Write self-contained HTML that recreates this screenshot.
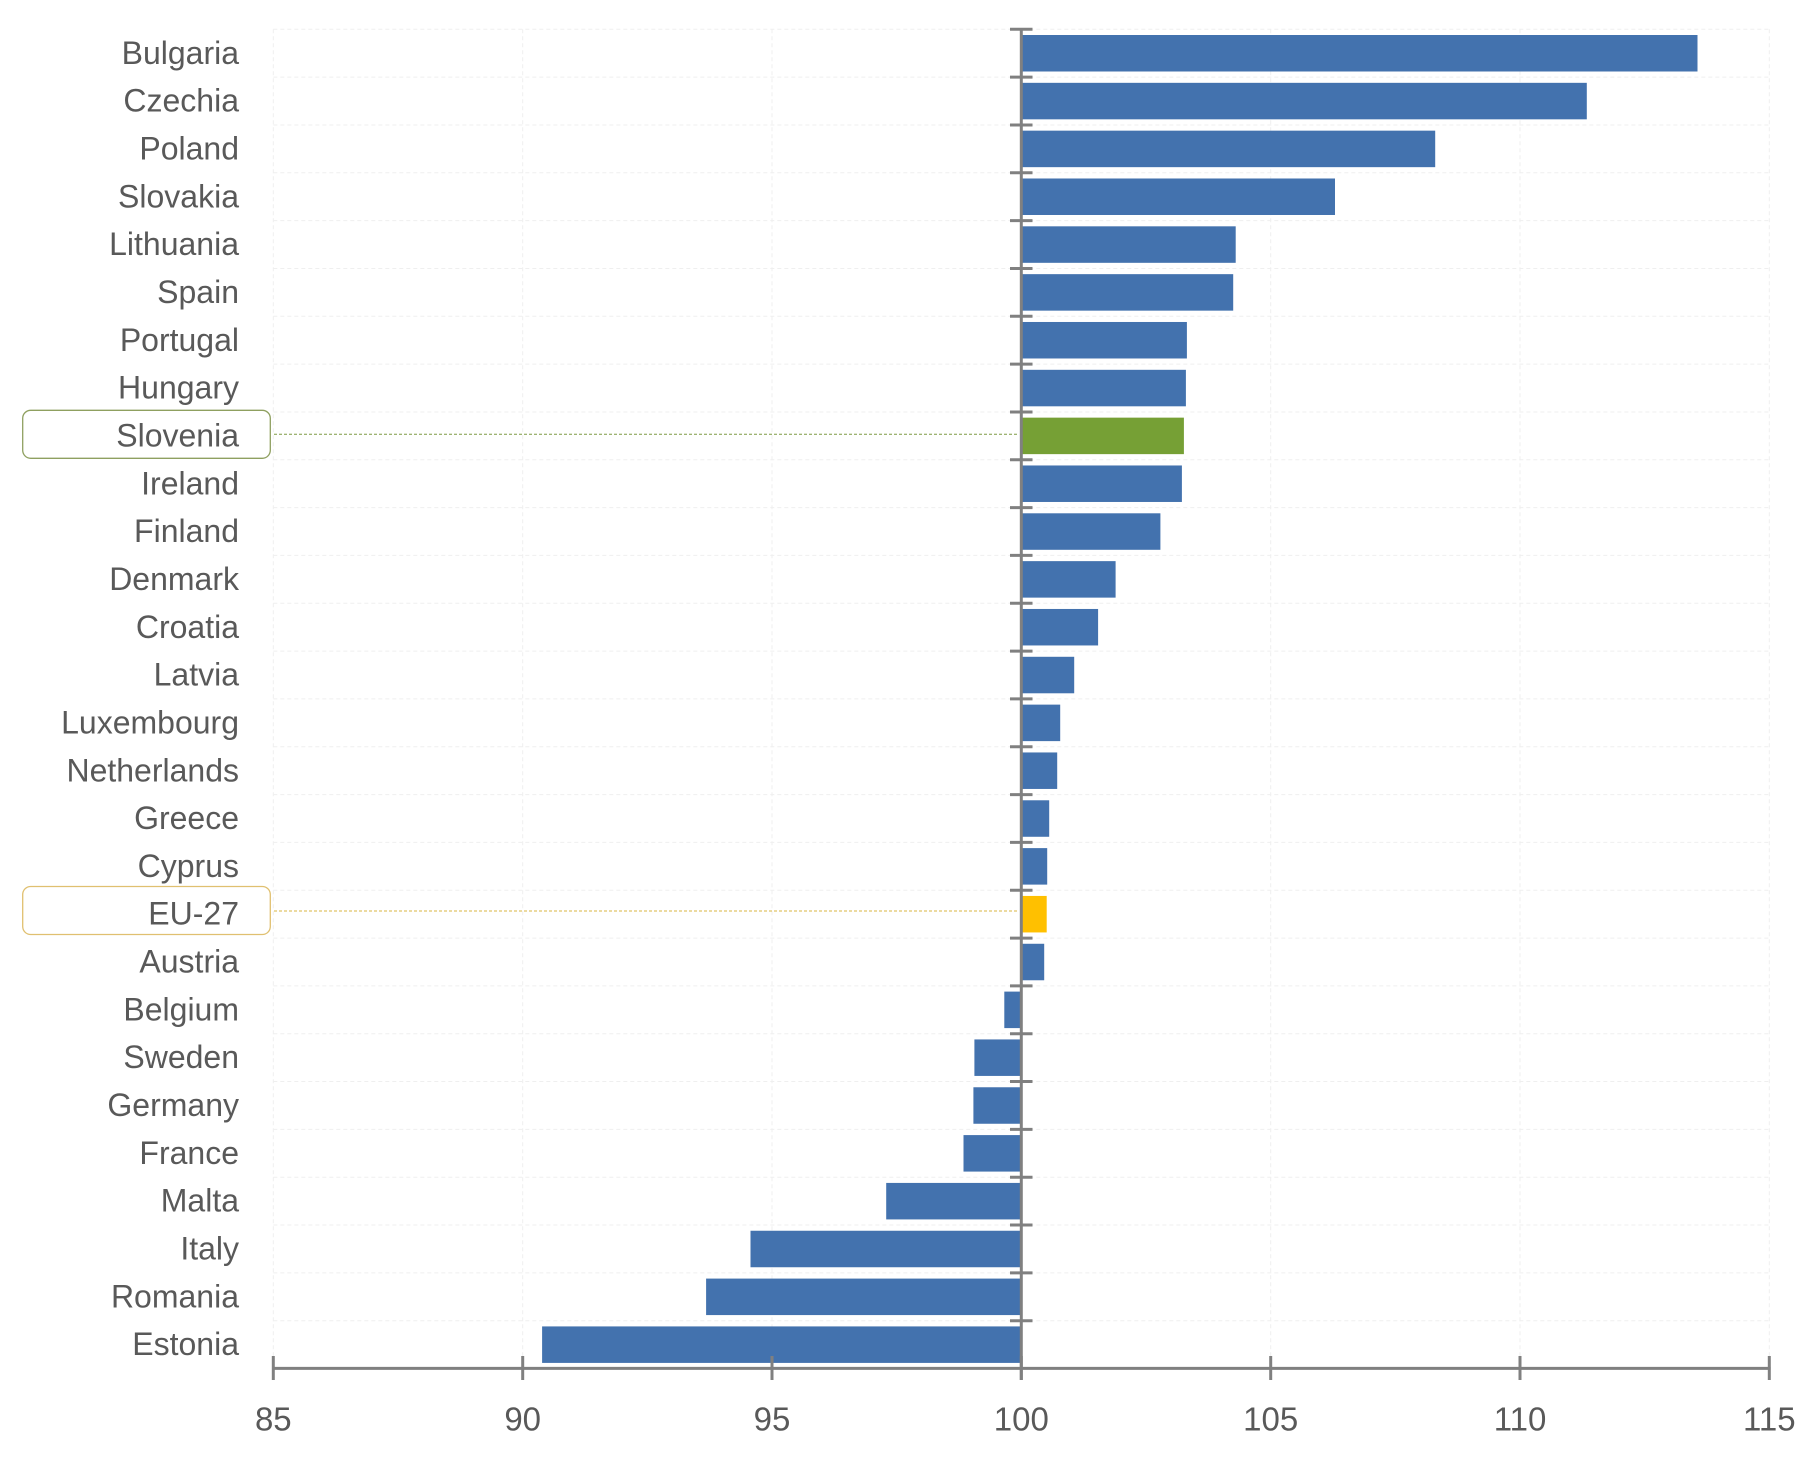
<!DOCTYPE html>
<html>
<head>
<meta charset="utf-8">
<style>
html,body{margin:0;padding:0;background:#fff;}
svg{display:block;}
text{font-family:"Liberation Sans",Arial,sans-serif;fill:#595959;}
</style>
</head>
<body>
<svg width="1813" height="1457" viewBox="0 0 1813 1457" xmlns="http://www.w3.org/2000/svg">
<g stroke="#efefef" stroke-width="1" stroke-dasharray="4,3" fill="none">
<line x1="273.3" y1="29.3" x2="273.3" y2="1368"/>
<line x1="522.7" y1="29.3" x2="522.7" y2="1368"/>
<line x1="772" y1="29.3" x2="772" y2="1368"/>
<line x1="1270.7" y1="29.3" x2="1270.7" y2="1368"/>
<line x1="1520" y1="29.3" x2="1520" y2="1368"/>
<line x1="1769.3" y1="29.3" x2="1769.3" y2="1368"/>
<line x1="273.3" y1="29.3" x2="1769.3" y2="29.3"/>
<line x1="273.3" y1="77.13" x2="1769.3" y2="77.13"/>
<line x1="273.3" y1="124.96" x2="1769.3" y2="124.96"/>
<line x1="273.3" y1="172.79" x2="1769.3" y2="172.79"/>
<line x1="273.3" y1="220.62" x2="1769.3" y2="220.62"/>
<line x1="273.3" y1="268.45" x2="1769.3" y2="268.45"/>
<line x1="273.3" y1="316.28" x2="1769.3" y2="316.28"/>
<line x1="273.3" y1="364.11" x2="1769.3" y2="364.11"/>
<line x1="273.3" y1="411.94" x2="1769.3" y2="411.94"/>
<line x1="273.3" y1="459.77" x2="1769.3" y2="459.77"/>
<line x1="273.3" y1="507.6" x2="1769.3" y2="507.6"/>
<line x1="273.3" y1="555.43" x2="1769.3" y2="555.43"/>
<line x1="273.3" y1="603.26" x2="1769.3" y2="603.26"/>
<line x1="273.3" y1="651.09" x2="1769.3" y2="651.09"/>
<line x1="273.3" y1="698.92" x2="1769.3" y2="698.92"/>
<line x1="273.3" y1="746.75" x2="1769.3" y2="746.75"/>
<line x1="273.3" y1="794.58" x2="1769.3" y2="794.58"/>
<line x1="273.3" y1="842.41" x2="1769.3" y2="842.41"/>
<line x1="273.3" y1="890.24" x2="1769.3" y2="890.24"/>
<line x1="273.3" y1="938.07" x2="1769.3" y2="938.07"/>
<line x1="273.3" y1="985.9" x2="1769.3" y2="985.9"/>
<line x1="273.3" y1="1033.73" x2="1769.3" y2="1033.73"/>
<line x1="273.3" y1="1081.56" x2="1769.3" y2="1081.56"/>
<line x1="273.3" y1="1129.39" x2="1769.3" y2="1129.39"/>
<line x1="273.3" y1="1177.22" x2="1769.3" y2="1177.22"/>
<line x1="273.3" y1="1225.05" x2="1769.3" y2="1225.05"/>
<line x1="273.3" y1="1272.88" x2="1769.3" y2="1272.88"/>
<line x1="273.3" y1="1320.71" x2="1769.3" y2="1320.71"/>
</g>

<g fill="#4372ae">
<rect x="1021.3" y="35.0" width="676.2" height="36.5"/>
<rect x="1021.3" y="82.83" width="565.5" height="36.5"/>
<rect x="1021.3" y="130.66" width="413.9" height="36.5"/>
<rect x="1021.3" y="178.49" width="313.7" height="36.5"/>
<rect x="1021.3" y="226.32" width="214.4" height="36.5"/>
<rect x="1021.3" y="274.15" width="211.9" height="36.5"/>
<rect x="1021.3" y="321.98" width="165.6" height="36.5"/>
<rect x="1021.3" y="369.81" width="164.6" height="36.5"/>
<rect x="1021.3" y="465.47" width="160.6" height="36.5"/>
<rect x="1021.3" y="513.3" width="139.1" height="36.5"/>
<rect x="1021.3" y="561.13" width="94.3" height="36.5"/>
<rect x="1021.3" y="608.96" width="76.8" height="36.5"/>
<rect x="1021.3" y="656.79" width="52.9" height="36.5"/>
<rect x="1021.3" y="704.62" width="38.9" height="36.5"/>
<rect x="1021.3" y="752.45" width="35.9" height="36.5"/>
<rect x="1021.3" y="800.28" width="27.9" height="36.5"/>
<rect x="1021.3" y="848.11" width="25.9" height="36.5"/>
<rect x="1021.3" y="943.77" width="22.9" height="36.5"/>
<rect x="1004.3" y="991.6" width="17.0" height="36.5"/>
<rect x="974.4" y="1039.43" width="46.9" height="36.5"/>
<rect x="973.4" y="1087.26" width="47.9" height="36.5"/>
<rect x="963.5" y="1135.09" width="57.8" height="36.5"/>
<rect x="886.2" y="1182.92" width="135.1" height="36.5"/>
<rect x="750.5" y="1230.75" width="270.8" height="36.5"/>
<rect x="706.1" y="1278.58" width="315.2" height="36.5"/>
<rect x="542.1" y="1326.41" width="479.2" height="36.5"/>
</g>
<rect x="1021.3" y="417.64" width="162.6" height="36.5" fill="#76a035"/>
<rect x="1021.3" y="895.94" width="25.4" height="36.5" fill="#ffc000"/>

<line x1="274" y1="434.3" x2="1018" y2="434.3" stroke="#7f9a45" stroke-width="1" stroke-dasharray="3,2"/>
<line x1="274" y1="911" x2="1018" y2="911" stroke="#d8b440" stroke-width="1" stroke-dasharray="3,2"/>
<rect x="22.7" y="410.3" width="247.6" height="48" rx="8" ry="8" fill="none" stroke="#8fa060" stroke-width="1.3"/>
<rect x="22.7" y="886.5" width="247.6" height="48" rx="8" ry="8" fill="none" stroke="#e0c070" stroke-width="1.3"/>

<g stroke="#808080" stroke-width="3">
<line x1="1021.3" y1="28" x2="1021.3" y2="1380"/>
<line x1="1010" y1="29.3" x2="1032.5" y2="29.3"/>
<line x1="1010" y1="77.13" x2="1032.5" y2="77.13"/>
<line x1="1010" y1="124.96" x2="1032.5" y2="124.96"/>
<line x1="1010" y1="172.79" x2="1032.5" y2="172.79"/>
<line x1="1010" y1="220.62" x2="1032.5" y2="220.62"/>
<line x1="1010" y1="268.45" x2="1032.5" y2="268.45"/>
<line x1="1010" y1="316.28" x2="1032.5" y2="316.28"/>
<line x1="1010" y1="364.11" x2="1032.5" y2="364.11"/>
<line x1="1010" y1="411.94" x2="1032.5" y2="411.94"/>
<line x1="1010" y1="459.77" x2="1032.5" y2="459.77"/>
<line x1="1010" y1="507.6" x2="1032.5" y2="507.6"/>
<line x1="1010" y1="555.43" x2="1032.5" y2="555.43"/>
<line x1="1010" y1="603.26" x2="1032.5" y2="603.26"/>
<line x1="1010" y1="651.09" x2="1032.5" y2="651.09"/>
<line x1="1010" y1="698.92" x2="1032.5" y2="698.92"/>
<line x1="1010" y1="746.75" x2="1032.5" y2="746.75"/>
<line x1="1010" y1="794.58" x2="1032.5" y2="794.58"/>
<line x1="1010" y1="842.41" x2="1032.5" y2="842.41"/>
<line x1="1010" y1="890.24" x2="1032.5" y2="890.24"/>
<line x1="1010" y1="938.07" x2="1032.5" y2="938.07"/>
<line x1="1010" y1="985.9" x2="1032.5" y2="985.9"/>
<line x1="1010" y1="1033.73" x2="1032.5" y2="1033.73"/>
<line x1="1010" y1="1081.56" x2="1032.5" y2="1081.56"/>
<line x1="1010" y1="1129.39" x2="1032.5" y2="1129.39"/>
<line x1="1010" y1="1177.22" x2="1032.5" y2="1177.22"/>
<line x1="1010" y1="1225.05" x2="1032.5" y2="1225.05"/>
<line x1="1010" y1="1272.88" x2="1032.5" y2="1272.88"/>
<line x1="1010" y1="1320.71" x2="1032.5" y2="1320.71"/>
</g>

<g stroke="#808080" stroke-width="3">
<line x1="272" y1="1368.4" x2="1770.6" y2="1368.4"/>
<line x1="273.3" y1="1356" x2="273.3" y2="1380"/>
<line x1="522.7" y1="1356" x2="522.7" y2="1380"/>
<line x1="772" y1="1356" x2="772" y2="1380"/>
<line x1="1021.3" y1="1356" x2="1021.3" y2="1380"/>
<line x1="1270.7" y1="1356" x2="1270.7" y2="1380"/>
<line x1="1520" y1="1356" x2="1520" y2="1380"/>
<line x1="1769.3" y1="1356" x2="1769.3" y2="1380"/>
</g>
<g font-size="33" text-anchor="middle">
<text x="273.3" y="1430.5">85</text>
<text x="522.7" y="1430.5">90</text>
<text x="772" y="1430.5">95</text>
<text x="1021.3" y="1430.5">100</text>
<text x="1270.7" y="1430.5">105</text>
<text x="1520" y="1430.5">110</text>
<text x="1769.3" y="1430.5">115</text>
</g>

<g font-size="32" text-anchor="end">
<text x="239" y="63.8">Bulgaria</text>
<text x="239" y="111.63">Czechia</text>
<text x="239" y="159.46">Poland</text>
<text x="239" y="207.29">Slovakia</text>
<text x="239" y="255.12">Lithuania</text>
<text x="239" y="302.95">Spain</text>
<text x="239" y="350.78">Portugal</text>
<text x="239" y="398.61">Hungary</text>
<text x="239" y="446.44">Slovenia</text>
<text x="239" y="494.27">Ireland</text>
<text x="239" y="542.1">Finland</text>
<text x="239" y="589.93">Denmark</text>
<text x="239" y="637.76">Croatia</text>
<text x="239" y="685.59">Latvia</text>
<text x="239" y="733.42">Luxembourg</text>
<text x="239" y="781.25">Netherlands</text>
<text x="239" y="829.08">Greece</text>
<text x="239" y="876.91">Cyprus</text>
<text x="239" y="924.74">EU-27</text>
<text x="239" y="972.57">Austria</text>
<text x="239" y="1020.4">Belgium</text>
<text x="239" y="1068.23">Sweden</text>
<text x="239" y="1116.06">Germany</text>
<text x="239" y="1163.89">France</text>
<text x="239" y="1211.72">Malta</text>
<text x="239" y="1259.55">Italy</text>
<text x="239" y="1307.38">Romania</text>
<text x="239" y="1355.21">Estonia</text>
</g>
</svg>
</body>
</html>
